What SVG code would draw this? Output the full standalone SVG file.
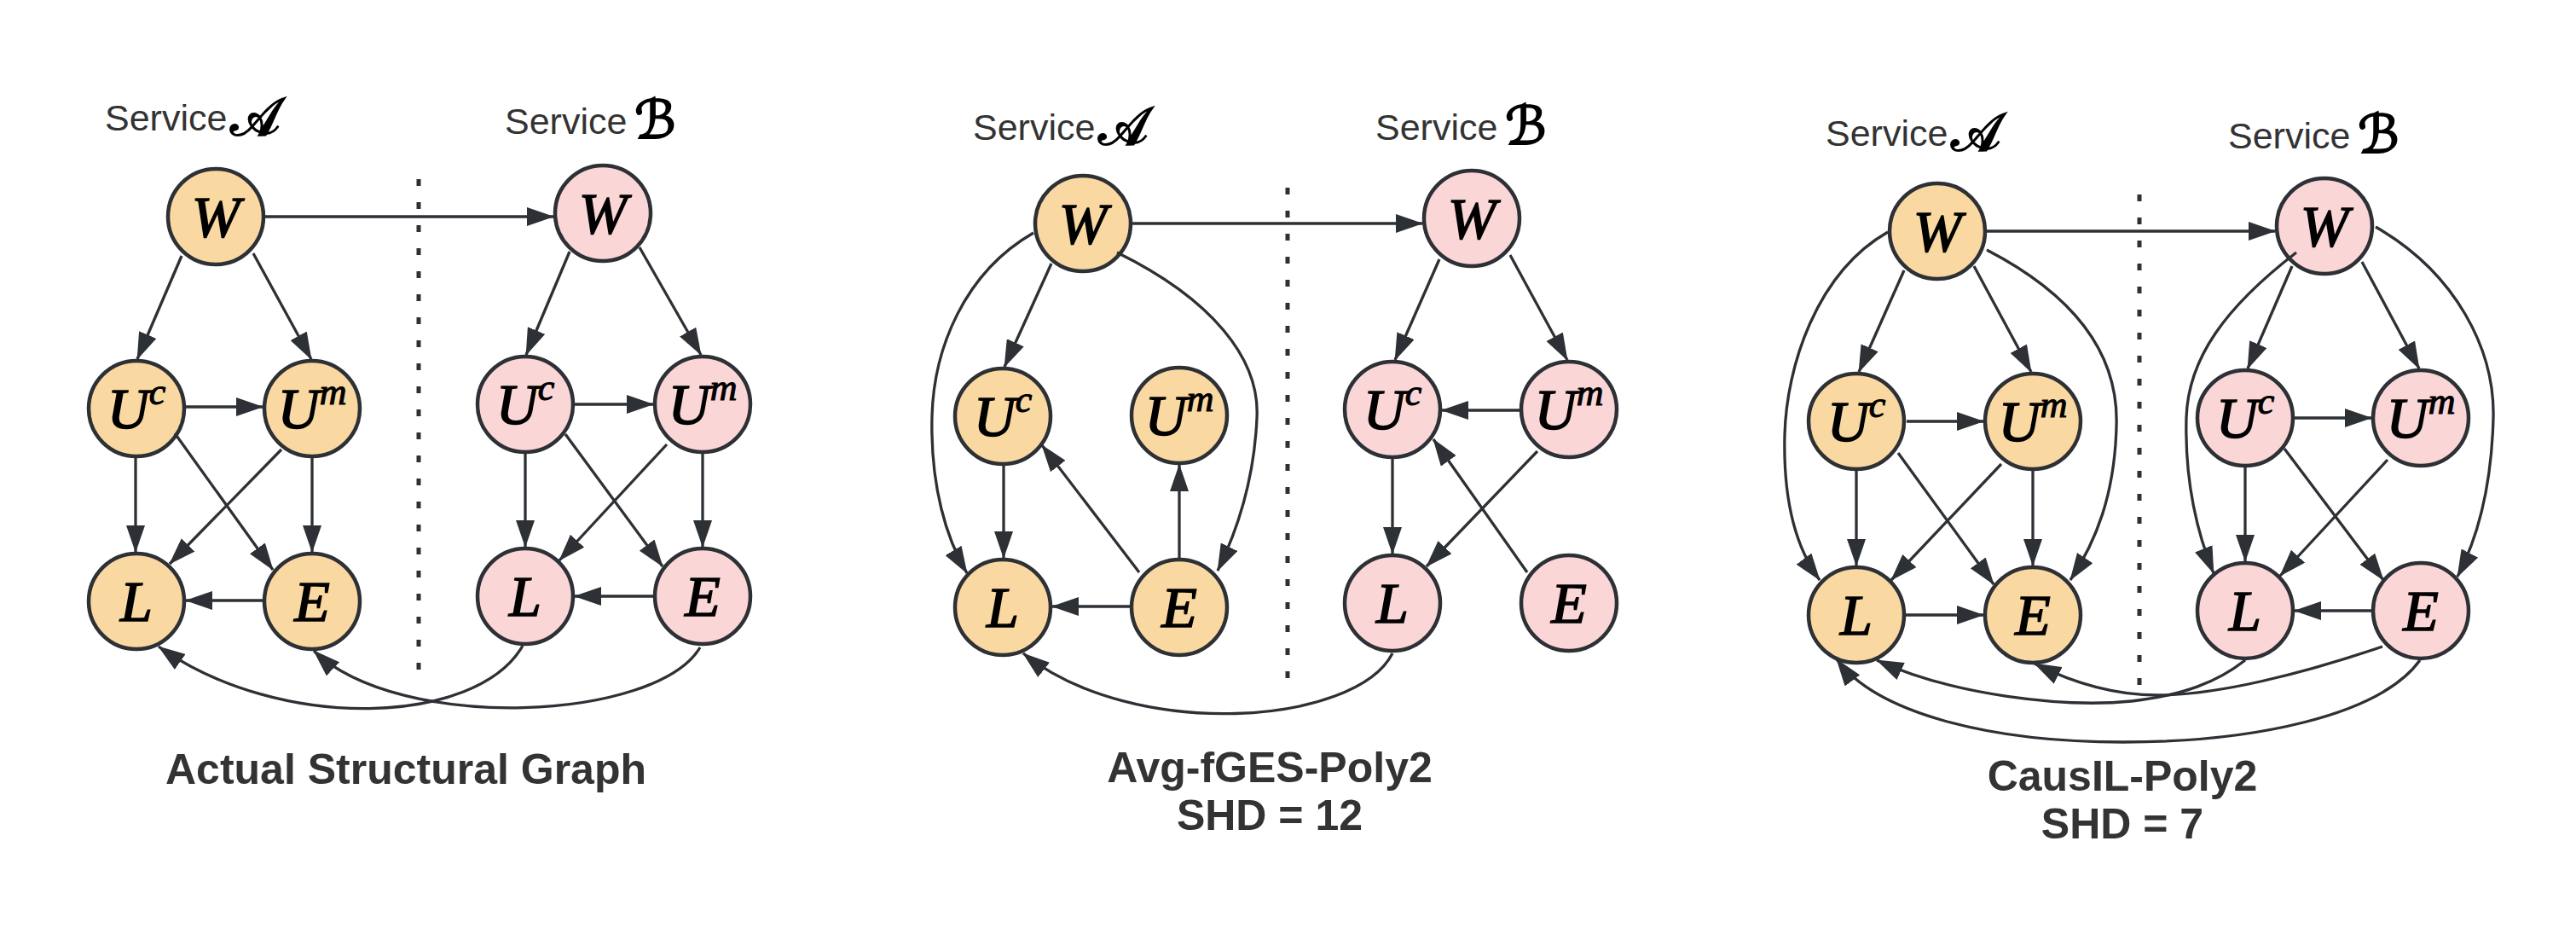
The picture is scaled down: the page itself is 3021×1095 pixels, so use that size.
<svg xmlns="http://www.w3.org/2000/svg" width="3021" height="1095" viewBox="0 0 3021 1095">
<defs>
<style>
.bg{fill:#ffffff}
.na{fill:#fad8a1;stroke:#2d3035;stroke-width:4.5}
.nb{fill:#fad6d7;stroke:#2d3035;stroke-width:4.5}
.lbl{font-family:"Liberation Serif","Times New Roman",serif;font-style:italic;font-size:68px;fill:#000;stroke:#000;stroke-width:1.6;text-anchor:middle}
.sup{font-size:44px;stroke-width:1.1}
.svc{font-family:"Liberation Sans",Arial,sans-serif;font-size:43px;fill:#333333}
.scr{font-family:"DejaVu Serif","DejaVu Sans","Noto Sans",serif;font-size:62px;fill:#000;stroke:#000;stroke-width:2}
.ttl{font-family:"Liberation Sans",Arial,sans-serif;font-weight:bold;font-size:50px;fill:#333333;text-anchor:middle}
.e{fill:none;stroke:#2d3035;stroke-width:3.3;marker-end:url(#arr)}
.dot{fill:none;stroke:#2d3035;stroke-width:5;stroke-dasharray:8 19}
</style>
<marker id="arr" markerUnits="userSpaceOnUse" markerWidth="32" markerHeight="22" viewBox="0 0 32 22" refX="31" refY="11" orient="auto">
<path d="M0,0 L32,11 L0,22 z" fill="#2d3035"/>
</marker>
</defs>
<rect class="bg" x="0" y="0" width="3021" height="1095"/>

<g id="labels">
<text class="svc" x="123" y="153">Service</text><text class="scr" x="270" y="158">𝒜</text>
<text class="svc" x="592" y="157">Service</text><text class="scr" x="744" y="162">ℬ</text>
<text class="svc" x="1141" y="164">Service</text><text class="scr" x="1288" y="169">𝒜</text>
<text class="svc" x="1613" y="164">Service</text><text class="scr" x="1765" y="169">ℬ</text>
<text class="svc" x="2141" y="171">Service</text><text class="scr" x="2288" y="176">𝒜</text>
<text class="svc" x="2613" y="174">Service</text><text class="scr" x="2765" y="179">ℬ</text>
<text class="ttl" x="476" y="919">Actual Structural Graph</text>
<text class="ttl" x="1489" y="917">Avg-fGES-Poly2</text>
<text class="ttl" x="1489" y="973">SHD = 12</text>
<text class="ttl" x="2489" y="927">CausIL-Poly2</text>
<text class="ttl" x="2489" y="983">SHD = 7</text>
</g>

<g id="separators">
<path class="dot" d="M491,210 V797"/>
<path class="dot" d="M1510,220 V807"/>
<path class="dot" d="M2509,228 V812"/>
</g>

<g id="p1-WA"><circle class="na" cx="253" cy="254" r="56"/><text class="lbl" x="253" y="277">W</text></g>
<g id="p1-UcA"><circle class="na" cx="160" cy="479" r="56"/><text class="lbl" x="160" y="502">U<tspan class="sup" dy="-28">c</tspan></text></g>
<g id="p1-UmA"><circle class="na" cx="366" cy="479" r="56"/><text class="lbl" x="366" y="502">U<tspan class="sup" dy="-28">m</tspan></text></g>
<g id="p1-LA"><circle class="na" cx="160" cy="705" r="56"/><text class="lbl" x="160" y="728">L</text></g>
<g id="p1-EA"><circle class="na" cx="366" cy="705" r="56"/><text class="lbl" x="366" y="728">E</text></g>
<g id="p1-WB"><circle class="nb" cx="707" cy="250" r="56"/><text class="lbl" x="707" y="273">W</text></g>
<g id="p1-UcB"><circle class="nb" cx="616" cy="474" r="56"/><text class="lbl" x="616" y="497">U<tspan class="sup" dy="-28">c</tspan></text></g>
<g id="p1-UmB"><circle class="nb" cx="824" cy="474" r="56"/><text class="lbl" x="824" y="497">U<tspan class="sup" dy="-28">m</tspan></text></g>
<g id="p1-LB"><circle class="nb" cx="616" cy="699" r="56"/><text class="lbl" x="616" y="722">L</text></g>
<g id="p1-EB"><circle class="nb" cx="824" cy="699" r="56"/><text class="lbl" x="824" y="722">E</text></g>

<g id="p2-WA"><circle class="na" cx="1270" cy="262" r="56"/><text class="lbl" x="1270" y="285">W</text></g>
<g id="p2-UcA"><circle class="na" cx="1176" cy="488" r="56"/><text class="lbl" x="1176" y="511">U<tspan class="sup" dy="-28">c</tspan></text></g>
<g id="p2-UmA"><circle class="na" cx="1383" cy="487" r="56"/><text class="lbl" x="1383" y="510">U<tspan class="sup" dy="-28">m</tspan></text></g>
<g id="p2-LA"><circle class="na" cx="1176" cy="712" r="56"/><text class="lbl" x="1176" y="735">L</text></g>
<g id="p2-EA"><circle class="na" cx="1383" cy="712" r="56"/><text class="lbl" x="1383" y="735">E</text></g>
<g id="p2-WB"><circle class="nb" cx="1726" cy="256" r="56"/><text class="lbl" x="1726" y="279">W</text></g>
<g id="p2-UcB"><circle class="nb" cx="1633" cy="480" r="56"/><text class="lbl" x="1633" y="503">U<tspan class="sup" dy="-28">c</tspan></text></g>
<g id="p2-UmB"><circle class="nb" cx="1840" cy="480" r="56"/><text class="lbl" x="1840" y="503">U<tspan class="sup" dy="-28">m</tspan></text></g>
<g id="p2-LB"><circle class="nb" cx="1633" cy="707" r="56"/><text class="lbl" x="1633" y="730">L</text></g>
<g id="p2-EB"><circle class="nb" cx="1840" cy="707" r="56"/><text class="lbl" x="1840" y="730">E</text></g>

<g id="p3-WA"><circle class="na" cx="2272" cy="271" r="56"/><text class="lbl" x="2272" y="294">W</text></g>
<g id="p3-UcA"><circle class="na" cx="2177" cy="494" r="56"/><text class="lbl" x="2177" y="517">U<tspan class="sup" dy="-28">c</tspan></text></g>
<g id="p3-UmA"><circle class="na" cx="2384" cy="494" r="56"/><text class="lbl" x="2384" y="517">U<tspan class="sup" dy="-28">m</tspan></text></g>
<g id="p3-LA"><circle class="na" cx="2177" cy="721" r="56"/><text class="lbl" x="2177" y="744">L</text></g>
<g id="p3-EA"><circle class="na" cx="2384" cy="721" r="56"/><text class="lbl" x="2384" y="744">E</text></g>
<g id="p3-WB"><circle class="nb" cx="2726" cy="265" r="56"/><text class="lbl" x="2726" y="288">W</text></g>
<g id="p3-UcB"><circle class="nb" cx="2633" cy="490" r="56"/><text class="lbl" x="2633" y="513">U<tspan class="sup" dy="-28">c</tspan></text></g>
<g id="p3-UmB"><circle class="nb" cx="2839" cy="490" r="56"/><text class="lbl" x="2839" y="513">U<tspan class="sup" dy="-28">m</tspan></text></g>
<g id="p3-LB"><circle class="nb" cx="2633" cy="716" r="56"/><text class="lbl" x="2633" y="739">L</text></g>
<g id="p3-EB"><circle class="nb" cx="2839" cy="716" r="56"/><text class="lbl" x="2839" y="739">E</text></g>

<g id="connectors">
<!-- panel 1 -->
<path class="e" d="M311,254 H649"/>
<path class="e" d="M213,300 L161,421"/>
<path class="e" d="M297,297 L365,421"/>
<path class="e" d="M218,477 L308,477"/>
<path class="e" d="M159,537 L159,647"/>
<path class="e" d="M205,508 L320,668"/>
<path class="e" d="M330,527 L199,661"/>
<path class="e" d="M366,537 L366,647"/>
<path class="e" d="M308,704 L218,704"/>
<path class="e" d="M668,295 L617,416"/>
<path class="e" d="M750,290 L822,416"/>
<path class="e" d="M674,474 L766,474"/>
<path class="e" d="M616,532 L616,641"/>
<path class="e" d="M663,509 L777,664"/>
<path class="e" d="M782,521 L656,657"/>
<path class="e" d="M824,532 L824,641"/>
<path class="e" d="M766,699 L674,699"/>
<path class="e" d="M613,757 C560,850 330,860 186,758"/>
<path class="e" d="M821,759 C770,845 470,860 368,763"/>
<!-- panel 2 -->
<path class="e" d="M1328,262 H1668"/>
<path class="e" d="M1233,309 L1178,430"/>
<path class="e" d="M1212,273 C1130,320 1095,410 1093,488 C1091,570 1110,632 1134,672"/>
<path class="e" d="M1310,296 C1420,350 1478,420 1474,490 C1471,560 1452,620 1428,669"/>
<path class="e" d="M1177,546 L1177,654"/>
<path class="e" d="M1336,671 L1222,522"/>
<path class="e" d="M1383,654 L1383,545"/>
<path class="e" d="M1325,711 L1234,711"/>
<path class="e" d="M1633,766 C1590,850 1330,870 1200,766"/>
<path class="e" d="M1688,304 L1636,422"/>
<path class="e" d="M1771,299 L1838,422"/>
<path class="e" d="M1782,481 L1691,481"/>
<path class="e" d="M1633,538 L1633,649"/>
<path class="e" d="M1803,529 L1673,664"/>
<path class="e" d="M1791,671 L1681,515"/>
<!-- panel 3 -->
<path class="e" d="M2330,271 H2668"/>
<path class="e" d="M2233,317 L2180,436"/>
<path class="e" d="M2315,312 L2382,436"/>
<path class="e" d="M2214,272 C2130,320 2095,430 2093,510 C2091,590 2108,645 2134,680"/>
<path class="e" d="M2330,293 C2440,350 2485,420 2482,500 C2480,580 2458,635 2428,680"/>
<path class="e" d="M2236,494 L2326,494"/>
<path class="e" d="M2177,552 L2177,663"/>
<path class="e" d="M2226,531 L2338,685"/>
<path class="e" d="M2347,544 L2218,680"/>
<path class="e" d="M2384,552 L2384,663"/>
<path class="e" d="M2235,721 L2326,721"/>
<path class="e" d="M2688,312 L2636,432"/>
<path class="e" d="M2770,307 L2837,432"/>
<path class="e" d="M2693,296 C2610,360 2566,420 2564,490 C2562,570 2578,628 2596,672"/>
<path class="e" d="M2786,266 C2880,320 2926,410 2924,490 C2922,570 2905,632 2882,676"/>
<path class="e" d="M2691,490 L2781,490"/>
<path class="e" d="M2633,548 L2633,658"/>
<path class="e" d="M2679,526 L2795,680"/>
<path class="e" d="M2800,539 L2674,675"/>
<path class="e" d="M2781,716 L2691,716"/>
<path class="e" d="M2633,774 C2600,800 2560,815 2500,822 C2420,830 2290,815 2201,774"/>
<path class="e" d="M2794,758 C2700,790 2600,815 2530,815 C2480,815 2430,800 2386,778"/>
<path class="e" d="M2838,774 C2790,840 2640,870 2490,870 C2330,870 2200,835 2154,773"/>
</g>
</svg>
